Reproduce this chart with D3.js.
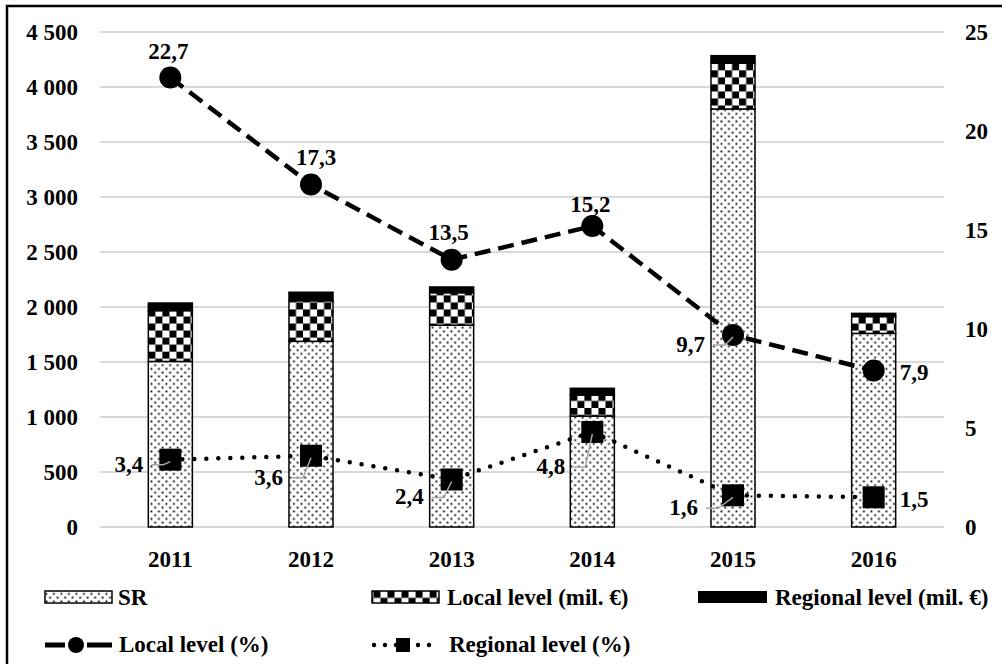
<!DOCTYPE html>
<html>
<head>
<meta charset="utf-8">
<script src="https://cdn.jsdelivr.net/npm/d3@7"></script>
<style>
  body { margin: 0; background: #fff; }
</style>
</head>
<body>
<div id="chart"></div>
<script>
// Data
var years          = ['2011', '2012', '2013', '2014', '2015', '2016'];
var srValues       = [1505, 1688, 1835, 1008, 3800, 1760];
var localValues    = [462, 369, 295, 192, 416, 153];
var regionalValues = [69, 77, 52, 61, 69, 29];
var localPct       = [22.7, 17.3, 13.5, 15.2, 9.7, 7.9];
var regionalPct    = [3.4, 3.6, 2.4, 4.8, 1.6, 1.5];
var leftTicks      = [0, 500, 1000, 1500, 2000, 2500, 3000, 3500, 4000, 4500];
var rightTicks     = [0, 5, 10, 15, 20, 25];

// Label placement (dx, dy from the marker, anchor, leader line)
var localLabelPos = [
  [-2, -19, 'middle', false], [5, -19, 'middle', false], [-3, -20, 'middle', false],
  [-2, -14, 'middle', false], [-28, 17, 'end', true], [26, 9, 'start', false]
];
var regionalLabelPos = [
  [-27, 12, 'end', true], [-28, 29, 'end', true], [-28, 25, 'end', true],
  [-27, 42, 'end', true], [-35, 20, 'end', true], [26, 10, 'start', false]
];

var chart_width  = 1002;
var chart_height = 664;
var font = "'Liberation Serif', 'Times New Roman', Times, serif";

var locale = d3.formatLocale({ decimal: ',', thousands: ' ', grouping: [3], currency: ['', '€'] });
var fmtThousands = locale.format(',');
var fmtPct = locale.format('.1f');

var rows = years.map(function(y, i){
  return { year: y, sr: srValues[i], local: localValues[i], regional: regionalValues[i] };
});
var stack = d3.stack().keys(['sr', 'local', 'regional']);
var series = stack(rows);

// Scales
var x = d3.scaleBand()
          .domain(years)
          .range([100, 944])
          .paddingInner(0.687)
          .paddingOuter(0.3435);
var yLeft = d3.scaleLinear().domain([0, 4500]).range([527, 32]);
var yRight = d3.scaleLinear().domain([0, 25]).range([527, 32]);
function cx(d, i){ return x(years[i]) + x.bandwidth() / 2; }

var svg = d3.select('#chart')
            .append('svg')
            .attr('width', chart_width)
            .attr('height', chart_height)
            .style('font-family', font)
            .style('font-weight', 'bold')
            .style('font-size', '23px');

// Patterns
var defs = svg.append('defs');
var dots = defs.append('pattern')
               .attr('id', 'dots')
               .attr('patternUnits', 'userSpaceOnUse')
               .attr('width', 7.5).attr('height', 7.5);
dots.append('rect').attr('width', 7.5).attr('height', 7.5).attr('fill', '#fff');
dots.append('rect').attr('x', 0.5).attr('y', 0.5).attr('width', 1.8).attr('height', 1.8).attr('fill', '#000');
dots.append('rect').attr('x', 4.25).attr('y', 4.25).attr('width', 1.8).attr('height', 1.8).attr('fill', '#000');

var sq = x.step() / 20;
var checker = defs.append('pattern')
                  .attr('id', 'checker')
                  .attr('patternUnits', 'userSpaceOnUse')
                  .attr('x', x(years[0]))
                  .attr('width', sq * 2).attr('height', sq * 2);
checker.append('rect').attr('width', sq * 2).attr('height', sq * 2).attr('fill', '#fff');
checker.append('rect').attr('width', sq).attr('height', sq).attr('fill', '#000');
checker.append('rect').attr('x', sq).attr('y', sq).attr('width', sq).attr('height', sq).attr('fill', '#000');

var fills = { sr: 'url(#dots)', local: 'url(#checker)', regional: '#000' };

// Outer frame
svg.append('rect')
   .attr('x', 7).attr('y', 6)
   .attr('width', chart_width).attr('height', chart_height)
   .attr('fill', 'none')
   .attr('stroke', '#000')
   .attr('stroke-width', 2.5);

// Gridlines
svg.append('g')
   .selectAll('line')
   .data(leftTicks)
   .enter()
   .append('line')
   .attr('x1', 100).attr('x2', 944)
   .attr('y1', function(d){ return yLeft(d); })
   .attr('y2', function(d){ return yLeft(d); })
   .attr('stroke', '#d9d9d9')
   .attr('stroke-width', 2);

// Axes
var leftAxis = d3.axisLeft(yLeft).tickValues(leftTicks).tickFormat(fmtThousands).tickSize(0).tickPadding(22);
var rightAxis = d3.axisRight(yRight).tickValues(rightTicks).tickSize(0).tickPadding(21);
var bottomAxis = d3.axisBottom(x).tickSize(0).tickPadding(24);

var gl = svg.append('g').attr('transform', 'translate(100,0)').call(leftAxis);
var gr = svg.append('g').attr('transform', 'translate(944,0)').call(rightAxis);
var gb = svg.append('g').attr('transform', 'translate(0,527)').call(bottomAxis);
[gl, gr, gb].forEach(function(g){
  g.select('.domain').remove();
  g.attr('font-size', 23).attr('font-family', font).attr('font-weight', 'bold');
  g.selectAll('text').attr('fill', '#000');
});

// Stacked bars
svg.append('g')
   .selectAll('g')
   .data(series)
   .enter()
   .append('g')
   .attr('fill', function(s){ return fills[s.key]; })
   .selectAll('rect')
   .data(function(s){ return s; })
   .enter()
   .append('rect')
   .attr('x', function(d){ return x(d.data.year); })
   .attr('y', function(d){ return yLeft(d[1]); })
   .attr('width', x.bandwidth())
   .attr('height', function(d){ return yLeft(d[0]) - yLeft(d[1]); })
   .attr('stroke', '#000')
   .attr('stroke-width', 1.5);

// Lines
var pctLine = d3.line()
                .x(cx)
                .y(function(d){ return yRight(d); });

svg.append('path')
   .datum(localPct)
   .attr('d', pctLine)
   .attr('fill', 'none')
   .attr('stroke', '#000')
   .attr('stroke-width', 4.5)
   .attr('stroke-dasharray', '16 8');

svg.append('path')
   .datum(regionalPct)
   .attr('d', pctLine)
   .attr('fill', 'none')
   .attr('stroke', '#000')
   .attr('stroke-width', 4.5)
   .attr('stroke-linecap', 'round')
   .attr('stroke-dasharray', '0 12');

// Markers
svg.append('g')
   .selectAll('circle')
   .data(localPct)
   .enter()
   .append('circle')
   .attr('cx', cx)
   .attr('cy', function(d){ return yRight(d); })
   .attr('r', 11)
   .attr('fill', '#000');

svg.append('g')
   .selectAll('rect')
   .data(regionalPct)
   .enter()
   .append('rect')
   .attr('x', function(d, i){ return cx(d, i) - 11; })
   .attr('y', function(d){ return yRight(d) - 11; })
   .attr('width', 22)
   .attr('height', 22)
   .attr('fill', '#000');

// Data labels with leader lines
function addLabels(values, pos){
  var g = svg.append('g');
  values.forEach(function(v, i){
    var px = cx(v, i), py = yRight(v);
    var p = pos[i];
    var tx = px + p[0], ty = py + p[1];
    if (p[3]) {
      var lx = tx + 8, ly = ty - 7;
      g.append('path')
       .attr('d', 'M' + lx + ',' + ly + 'L' + (lx + 12) + ',' + ly + 'L' + px + ',' + (py + 2))
       .attr('fill', 'none')
       .attr('stroke', '#a6a6a6')
       .attr('stroke-width', 1.5);
    }
    g.append('text')
     .attr('x', tx)
     .attr('y', ty)
     .attr('text-anchor', p[2])
     .text(fmtPct(v));
  });
}
addLabels(localPct, localLabelPos);
addLabels(regionalPct, regionalLabelPos);

// Legend
var legend = svg.append('g');

legend.append('rect').attr('x', 45).attr('y', 591).attr('width', 67).attr('height', 12)
      .attr('fill', 'url(#dots)').attr('stroke', '#000').attr('stroke-width', 1.5);
legend.append('text').attr('x', 118).attr('y', 605).text('SR');

legend.append('rect').attr('x', 372).attr('y', 591).attr('width', 67).attr('height', 12)
      .attr('fill', 'url(#checker)').attr('stroke', '#000').attr('stroke-width', 1.5);
legend.append('text').attr('x', 447).attr('y', 605).text('Local level (mil. €)');

legend.append('rect').attr('x', 698).attr('y', 591).attr('width', 69).attr('height', 12)
      .attr('fill', '#000');
legend.append('text').attr('x', 775).attr('y', 605).text('Regional level (mil. €)');

legend.append('line').attr('x1', 45).attr('x2', 112).attr('y1', 645).attr('y2', 645)
      .attr('stroke', '#000').attr('stroke-width', 5).attr('stroke-dasharray', '20 22 25');
legend.append('circle').attr('cx', 76).attr('cy', 645).attr('r', 8).attr('fill', '#000');
legend.append('text').attr('x', 119).attr('y', 652).text('Local level (%)');

legend.append('line').attr('x1', 374).attr('x2', 434).attr('y1', 645).attr('y2', 645)
      .attr('stroke', '#000').attr('stroke-width', 4.5).attr('stroke-linecap', 'round')
      .attr('stroke-dasharray', '0 11');
legend.append('rect').attr('x', 396).attr('y', 638).attr('width', 14).attr('height', 14).attr('fill', '#000');
legend.append('text').attr('x', 449).attr('y', 652).text('Regional level (%)');
</script>
</body>
</html>
